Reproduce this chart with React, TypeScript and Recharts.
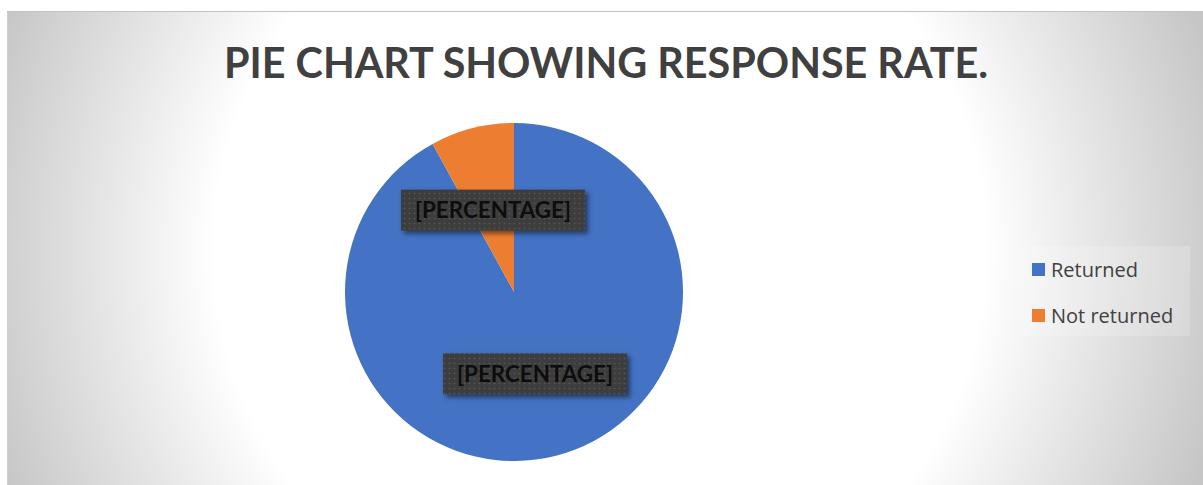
import { PieChart, Pie, Cell, Legend } from 'recharts';

// response counts as shares of the whole
const categories = ['Returned', 'Not returned'];
const values = [92, 8];
const sliceColors = ['#4472C4', '#ED7D31'];
const labelText = '[PERCENTAGE]';
const title = 'PIE CHART SHOWING RESPONSE RATE.';

const data = categories.map((name, i) => ({ name, value: values[i] }));

const RAD = Math.PI / 180;

function PercentLabel(props: any) {
  const { cx, cy, midAngle, outerRadius } = props;
  const r = outerRadius * 0.5;
  const x = cx + r * Math.cos(-midAngle * RAD);
  const y = cy + r * Math.sin(-midAngle * RAD);
  const w = 184;
  const h = 41;
  return (
    <g>
      <rect
        x={x - w / 2}
        y={y - h / 2}
        width={w}
        height={h}
        fill="url(#lblDots)"
        filter="url(#lblShadow)"
      />
      <text
        x={x}
        y={y + 8}
        textAnchor="middle"
        fill="#0d0d0d"
        fontFamily="Lato, 'Open Sans', sans-serif"
        fontWeight={700}
        fontSize={22}
        textLength={156}
        lengthAdjust="spacingAndGlyphs"
      >
        {labelText}
      </text>
    </g>
  );
}

function LegendBox(props: any) {
  const items = [...(props.payload || [])].sort(
    (a: any, b: any) => categories.indexOf(a.value) - categories.indexOf(b.value)
  );
  return (
    <div
      style={{
        width: 172,
        height: 90,
        background: 'rgba(255,255,255,0.18)',
        fontFamily: "'Open Sans', sans-serif",
        fontSize: 20,
        color: '#404040',
        boxSizing: 'border-box',
      }}
    >
      {items.map((it: any, i: number) => (
        <div
          key={it.value}
          style={{ display: 'flex', alignItems: 'center', height: 46, marginTop: i === 0 ? -1 : 0 }}
        >
          <span
            style={{
              display: 'inline-block',
              width: 13,
              height: 13,
              background: it.color,
              marginLeft: 14,
              marginRight: 6,
            }}
          />
          <span>{it.value}</span>
        </div>
      ))}
    </div>
  );
}

export default function App() {
  return (
    <div
      style={{
        position: 'absolute',
        left: 0,
        top: 0,
        width: 1203,
        height: 485,
        background: '#fff',
        overflow: 'hidden',
      }}
    >
      <svg width={0} height={0} style={{ position: 'absolute' }}>
        <defs>
          <pattern id="lblDots" width={5} height={5} patternUnits="userSpaceOnUse">
            <rect width={5} height={5} fill="#3e3e3e" />
            <circle cx={2.5} cy={2.5} r={0.8} fill="#595959" />
          </pattern>
          <filter id="lblShadow" x="-10%" y="-30%" width="130%" height="180%">
            <feDropShadow dx={3} dy={3} stdDeviation={2.5} floodColor="#000" floodOpacity={0.5} />
          </filter>
        </defs>
      </svg>
      <div
        style={{
          position: 'absolute',
          left: 7,
          top: 11,
          width: 1196,
          height: 474,
          background:
            'radial-gradient(circle 640px at 593px 239px, #ffffff 0px, #ffffff 385px, #c6c6c6 640px)',
          boxShadow: 'inset 0 1px 0 #c2c2c2, inset 1px 0 0 #cfcfcf',
        }}
      >
        <PieChart width={1196} height={474}>
          <Pie
            data={data}
            dataKey="value"
            nameKey="name"
            cx={502}
            cy={276}
            outerRadius={169}
            startAngle={90}
            endAngle={-270}
            stroke="none"
            labelLine={false}
            label={PercentLabel}
            isAnimationActive={false}
          >
            {data.map((d, i) => (
              <Cell key={d.name} fill={sliceColors[i]} />
            ))}
          </Pie>
          <Legend
            layout="vertical"
            content={LegendBox}
            wrapperStyle={{ position: 'absolute', left: 1011, top: 236, width: 172 }}
          />
        </PieChart>
      </div>
      <svg width={1203} height={485} style={{ position: 'absolute', left: 0, top: 0, pointerEvents: 'none' }}>
        <text
          x={606}
          y={78}
          textAnchor="middle"
          fill="#404040"
          fontFamily="Lato, 'Open Sans', sans-serif"
          fontWeight={700}
          fontSize={42}
          textLength={764}
          lengthAdjust="spacingAndGlyphs"
        >
          {title}
        </text>
      </svg>
    </div>
  );
}
